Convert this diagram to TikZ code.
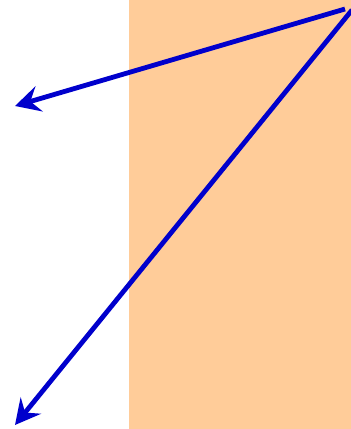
\documentclass[tikz,border=0pt]{standalone}
\usetikzlibrary{arrows.meta}
\definecolor{bgorange}{RGB}{255,204,153}
\definecolor{arrowblue}{RGB}{0,0,204}
\tikzset{
  bluearrow/.style={draw=arrowblue, line width=4.8pt, -{Stealth[length=25pt,width=26pt,inset=9pt]}}
}
\begin{document}
\begin{tikzpicture}[x=1pt,y=-1pt]
\useasboundingbox (0,0) rectangle (351,429);
\fill[bgorange] (129,0) rectangle (351,429);
\coordinate (s1) at (345,9);
\coordinate (s2) at (352,10);
\coordinate (t1) at (15,106);
\coordinate (t2) at (15,425);
\draw[bluearrow] (s1) -- (t1);
\draw[bluearrow] (s2) -- (t2);
\end{tikzpicture}
\end{document}
